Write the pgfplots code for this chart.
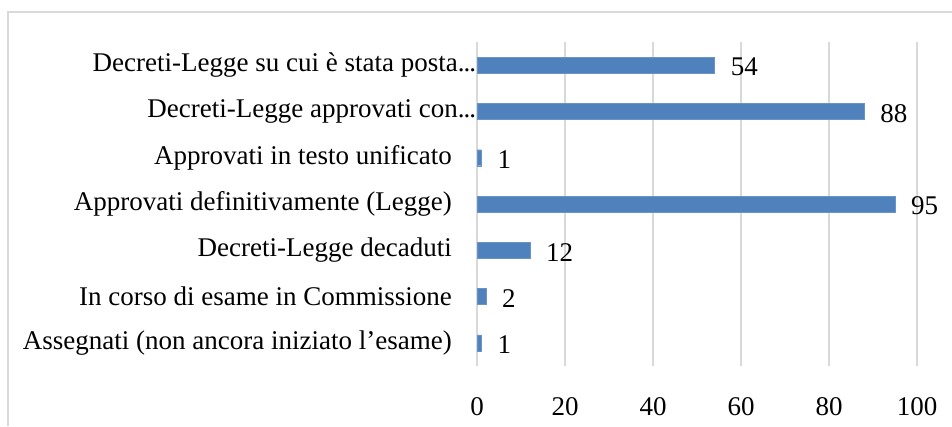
\documentclass[border=0pt]{standalone}
\usepackage{fontspec}
\setmainfont{Liberation Serif}
\usepackage{pgfplots}
\pgfplotsset{compat=1.18}
\definecolor{barblue}{HTML}{4F81BD}
\definecolor{gridgray}{HTML}{D9D9D9}

% truncated label: dots stick out towards the axis
\newcommand{\trunc}{\rlap{.\kern-1pt.\kern-1pt.}\kern-6pt\null}

\begin{document}
\begin{tikzpicture}
  \useasboundingbox (0,0) rectangle (952pt,426pt);
  % chart frame (only the left and top edges are visible)
  \draw[gridgray, line width=1.5pt] (8pt,0) -- (8pt,414pt) -- (952pt,414pt);
  \begin{axis}[
    at={(477pt,60pt)}, anchor=south west,
    scale only axis,
    width=440pt, height=324pt,
    xbar, bar width=16pt,
    xmin=0, xmax=100,
    ymin=-0.5, ymax=6.5,
    xtick={0,20,...,100},
    ytick={0,...,6},
    yticklabels={
      Assegnati (non ancora iniziato l’esame),
      In corso di esame in Commissione,
      Decreti-Legge decaduti,
      Approvati definitivamente (Legge),
      Approvati in testo unificato,
      Decreti-Legge approvati con\trunc,
      Decreti-Legge su cui è stata posta\trunc
    },
    axis line style={draw=none},
    major tick length=0pt,
    xmajorgrids, grid style={gridgray, line width=1.5pt},
    tick label style={font=\fontsize{27}{30}\selectfont},
    /pgf/number format/assume math mode=true,
    yticklabel style={anchor=east, inner sep=0pt, xshift=-25pt},
    xticklabel style={anchor=base, inner sep=0pt, yshift=-49pt},
    nodes near coords,
    nodes near coords style={font=\fontsize{27}{30}\selectfont,
      anchor=west, inner sep=0pt, xshift=16pt, yshift=-2pt, black},
  ]
    \addplot[draw=barblue!85!white, fill=barblue] coordinates {
      (1,0) (2,1) (12,2) (95,3) (1,4) (88,5) (54,6)
    };
  \end{axis}
\end{tikzpicture}
\end{document}
